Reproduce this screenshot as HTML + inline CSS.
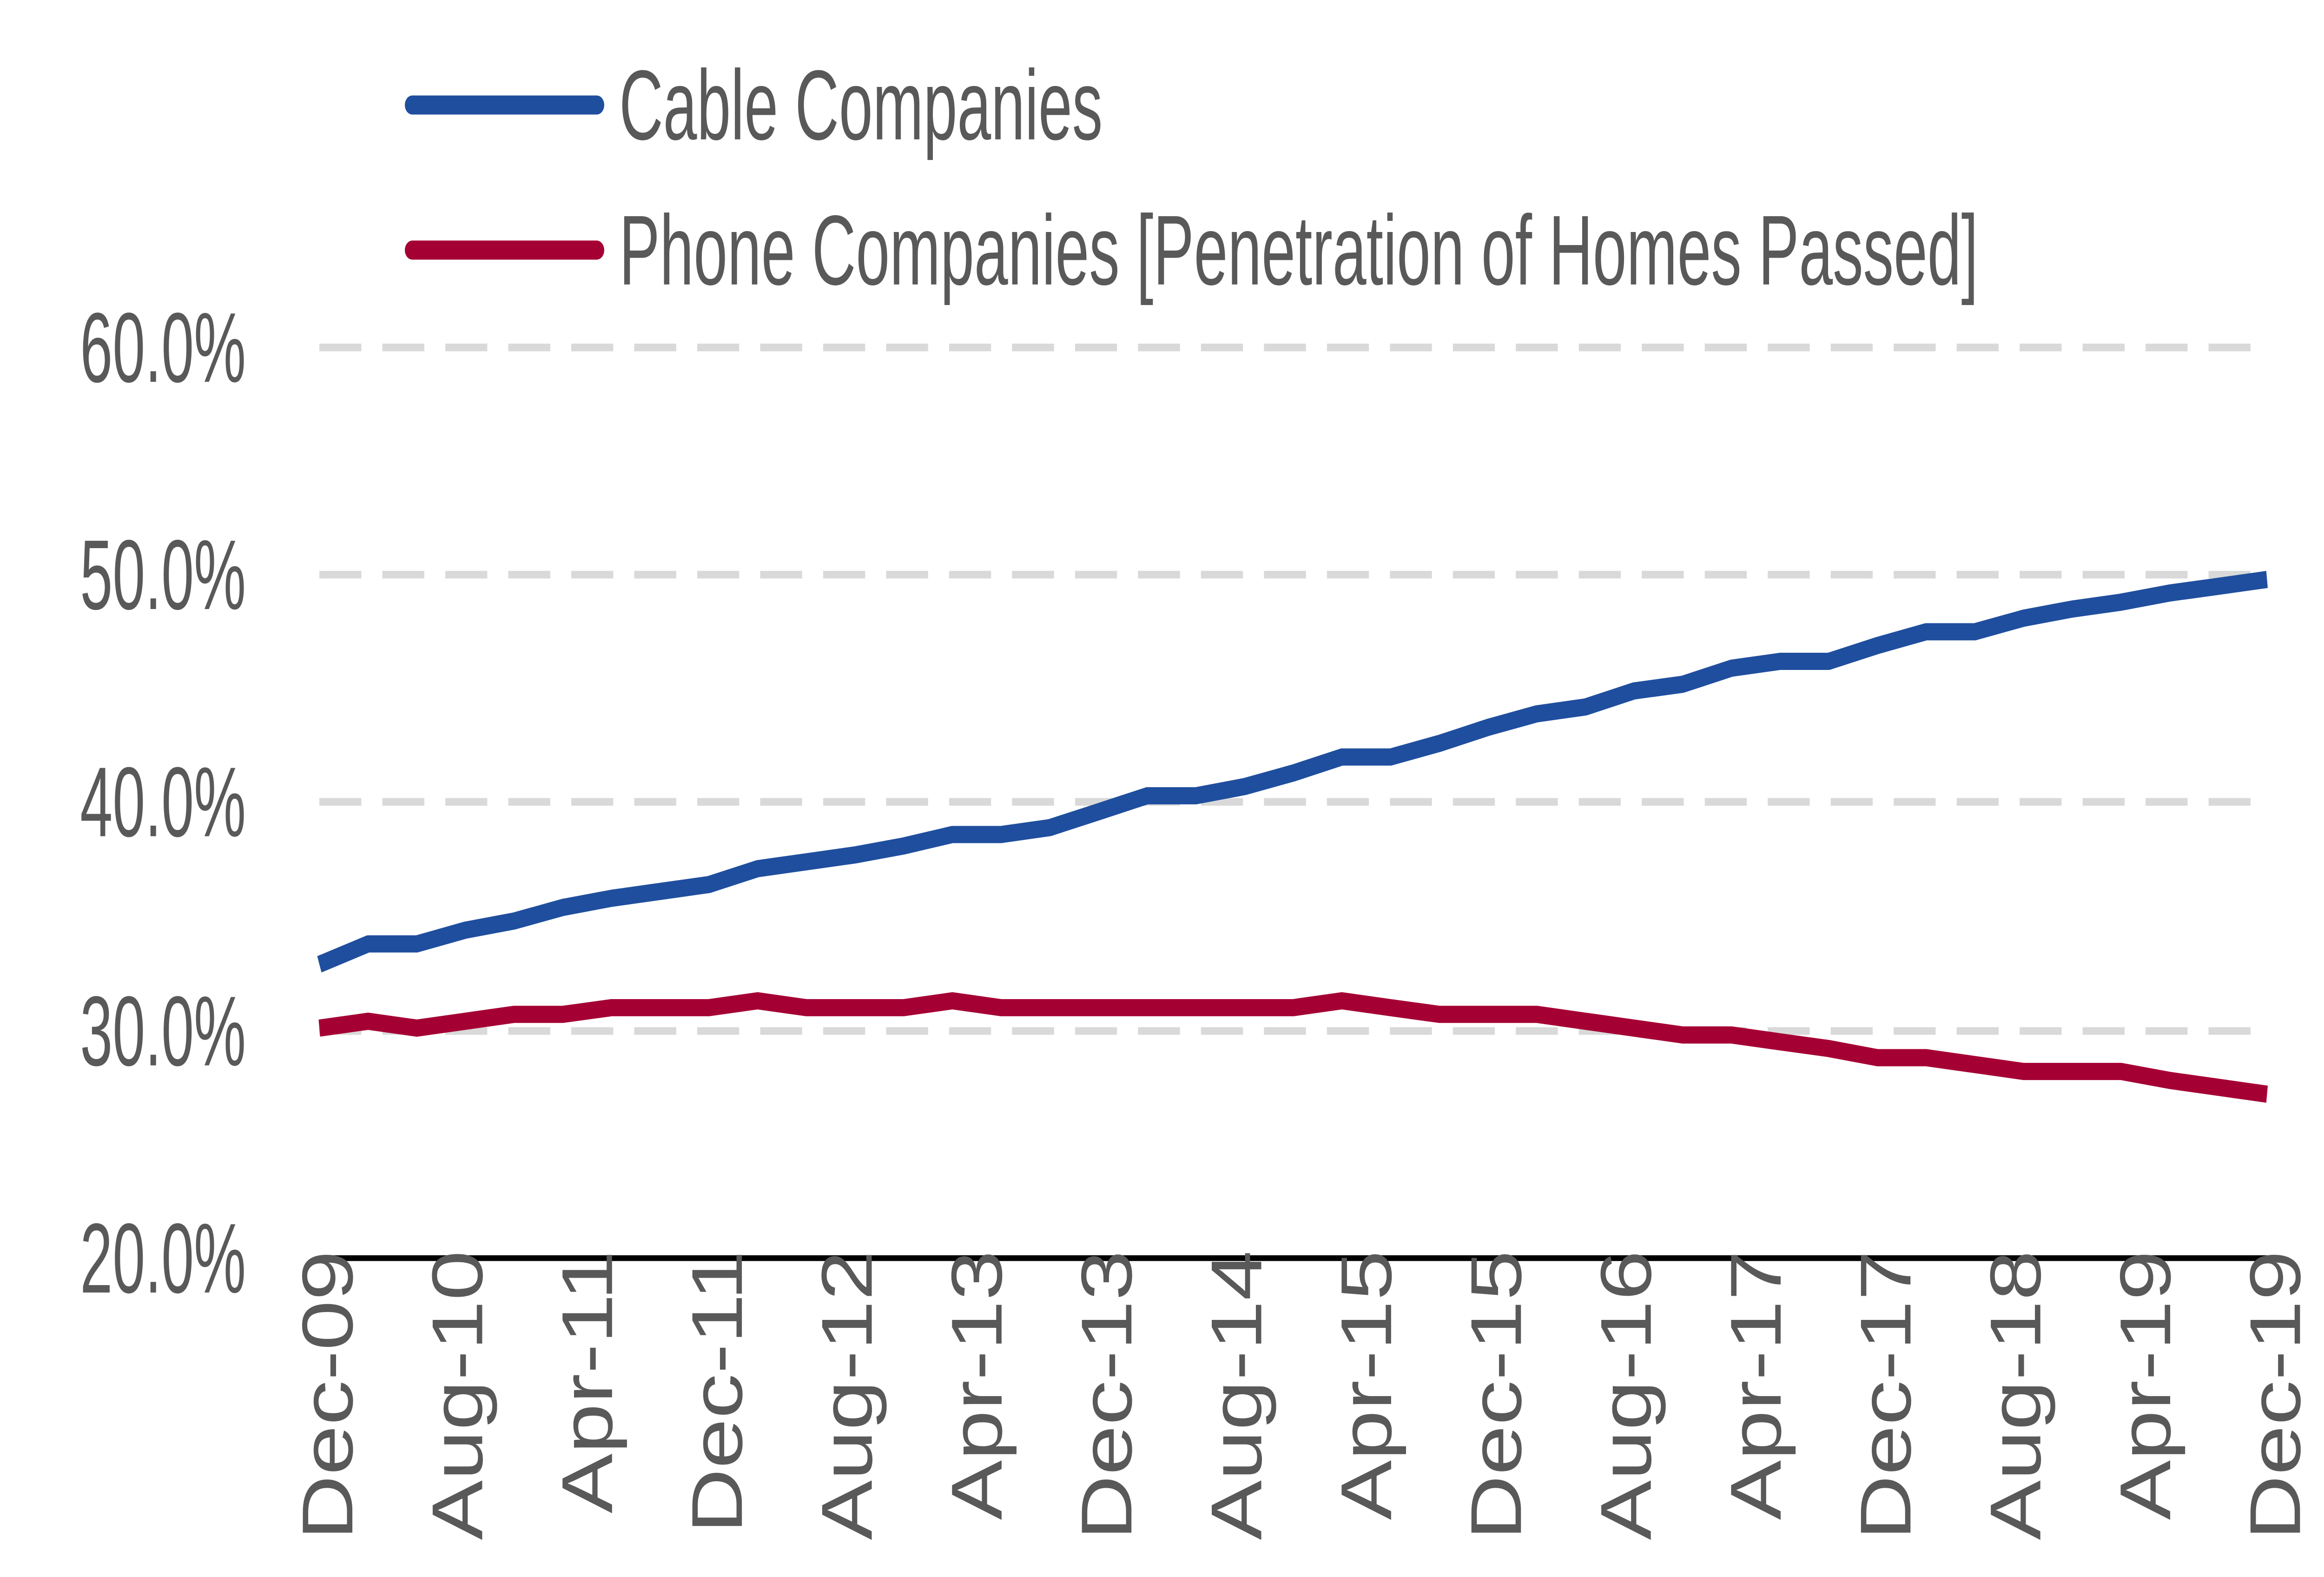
<!DOCTYPE html>
<html><head><meta charset="utf-8"><style>
html,body{margin:0;padding:0;background:#fff;width:100%;height:100%;overflow:hidden;}
svg{display:block;width:100vw;height:100vh;}
text{font-family:"Liberation Sans Narrow","Liberation Sans",sans-serif;fill:#595959;}
</style></head><body>
<svg viewBox="0 0 1550 826" preserveAspectRatio="none" xmlns="http://www.w3.org/2000/svg">
<rect width="1550" height="826" fill="#fff"/>
<g stroke="#d9d9d9" stroke-width="4" stroke-dasharray="28,14">
<line x1="213" y1="182" x2="1512" y2="182"/>
<line x1="213" y1="301" x2="1512" y2="301"/>
<line x1="213" y1="420" x2="1512" y2="420"/>
<line x1="213" y1="540" x2="1512" y2="540"/>
</g>
<line x1="213" y1="659" x2="1512" y2="659" stroke="#000" stroke-width="3"/>
<g font-size="52" text-anchor="end">
<text transform="translate(164 200) scale(0.75 1)">60.0%</text>
<text transform="translate(164 319) scale(0.75 1)">50.0%</text>
<text transform="translate(164 438) scale(0.75 1)">40.0%</text>
<text transform="translate(164 558) scale(0.75 1)">30.0%</text>
<text transform="translate(164 677) scale(0.75 1)">20.0%</text>
</g>
<polyline fill="none" stroke="#a50034" stroke-width="9" stroke-linejoin="round" points="213,538.5 245.5,534.9 278,538.5 310.4,534.9 342.9,531.3 375.4,531.3 407.9,527.8 440.3,527.8 472.8,527.8 505.3,524.2 537.8,527.8 570.2,527.8 602.7,527.8 635.2,524.2 667.7,527.8 700.1,527.8 732.6,527.8 765.1,527.8 797.6,527.8 830,527.8 862.5,527.8 895,524.2 927.5,527.8 959.9,531.3 992.4,531.3 1024.9,531.3 1057.4,534.9 1089.8,538.5 1122.3,542.1 1154.8,542.1 1187.3,545.7 1219.7,549.2 1252.2,554 1284.7,554 1317.2,557.6 1349.6,561.2 1382.1,561.2 1414.6,561.2 1447.1,565.9 1479.5,569.5 1512,573.1"/>
<polyline fill="none" stroke="#1f4e9e" stroke-width="9" stroke-linejoin="round" points="213,505.1 245.5,494.4 278,494.4 310.4,487.2 342.9,482.4 375.4,475.3 407.9,470.5 440.3,466.9 472.8,463.3 505.3,455 537.8,451.4 570.2,447.8 602.7,443.1 635.2,437.1 667.7,437.1 700.1,433.5 732.6,425.2 765.1,416.8 797.6,416.8 830,412 862.5,404.9 895,396.5 927.5,396.5 959.9,389.4 992.4,381 1024.9,373.9 1057.4,370.3 1089.8,361.9 1122.3,358.4 1154.8,350 1187.3,346.4 1219.7,346.4 1252.2,338.1 1284.7,330.9 1317.2,330.9 1349.6,323.8 1382.1,319 1414.6,315.4 1447.1,310.6 1479.5,307.1 1512,303.5"/>
<g font-size="48" text-anchor="end">
<text transform="translate(235 655) rotate(-90) scale(0.98 1)">Dec-09</text>
<text transform="translate(321.6 655) rotate(-90) scale(0.98 1)">Aug-10</text>
<text transform="translate(408.2 655) rotate(-90) scale(0.98 1)">Apr-11</text>
<text transform="translate(494.8 655) rotate(-90) scale(0.98 1)">Dec-11</text>
<text transform="translate(581.4 655) rotate(-90) scale(0.98 1)">Aug-12</text>
<text transform="translate(668 655) rotate(-90) scale(0.98 1)">Apr-13</text>
<text transform="translate(754.6 655) rotate(-90) scale(0.98 1)">Dec-13</text>
<text transform="translate(841.2 655) rotate(-90) scale(0.98 1)">Aug-14</text>
<text transform="translate(927.8 655) rotate(-90) scale(0.98 1)">Apr-15</text>
<text transform="translate(1014.4 655) rotate(-90) scale(0.98 1)">Dec-15</text>
<text transform="translate(1101 655) rotate(-90) scale(0.98 1)">Aug-16</text>
<text transform="translate(1187.6 655) rotate(-90) scale(0.98 1)">Apr-17</text>
<text transform="translate(1274.2 655) rotate(-90) scale(0.98 1)">Dec-17</text>
<text transform="translate(1360.8 655) rotate(-90) scale(0.98 1)">Aug-18</text>
<text transform="translate(1447.4 655) rotate(-90) scale(0.98 1)">Apr-19</text>
<text transform="translate(1534 655) rotate(-90) scale(0.98 1)">Dec-19</text>
</g>
<line x1="275" y1="55" x2="398" y2="55" stroke="#1f4e9e" stroke-width="10" stroke-linecap="round"/>
<line x1="275" y1="131" x2="398" y2="131" stroke="#a50034" stroke-width="10" stroke-linecap="round"/>
<g font-size="52">
<text transform="translate(413 73) scale(0.78 1)">Cable Companies</text>
<text transform="translate(413 149) scale(0.78 1)">Phone Companies [Penetration of Homes Passed]</text>
</g>
</svg>
</body></html>
